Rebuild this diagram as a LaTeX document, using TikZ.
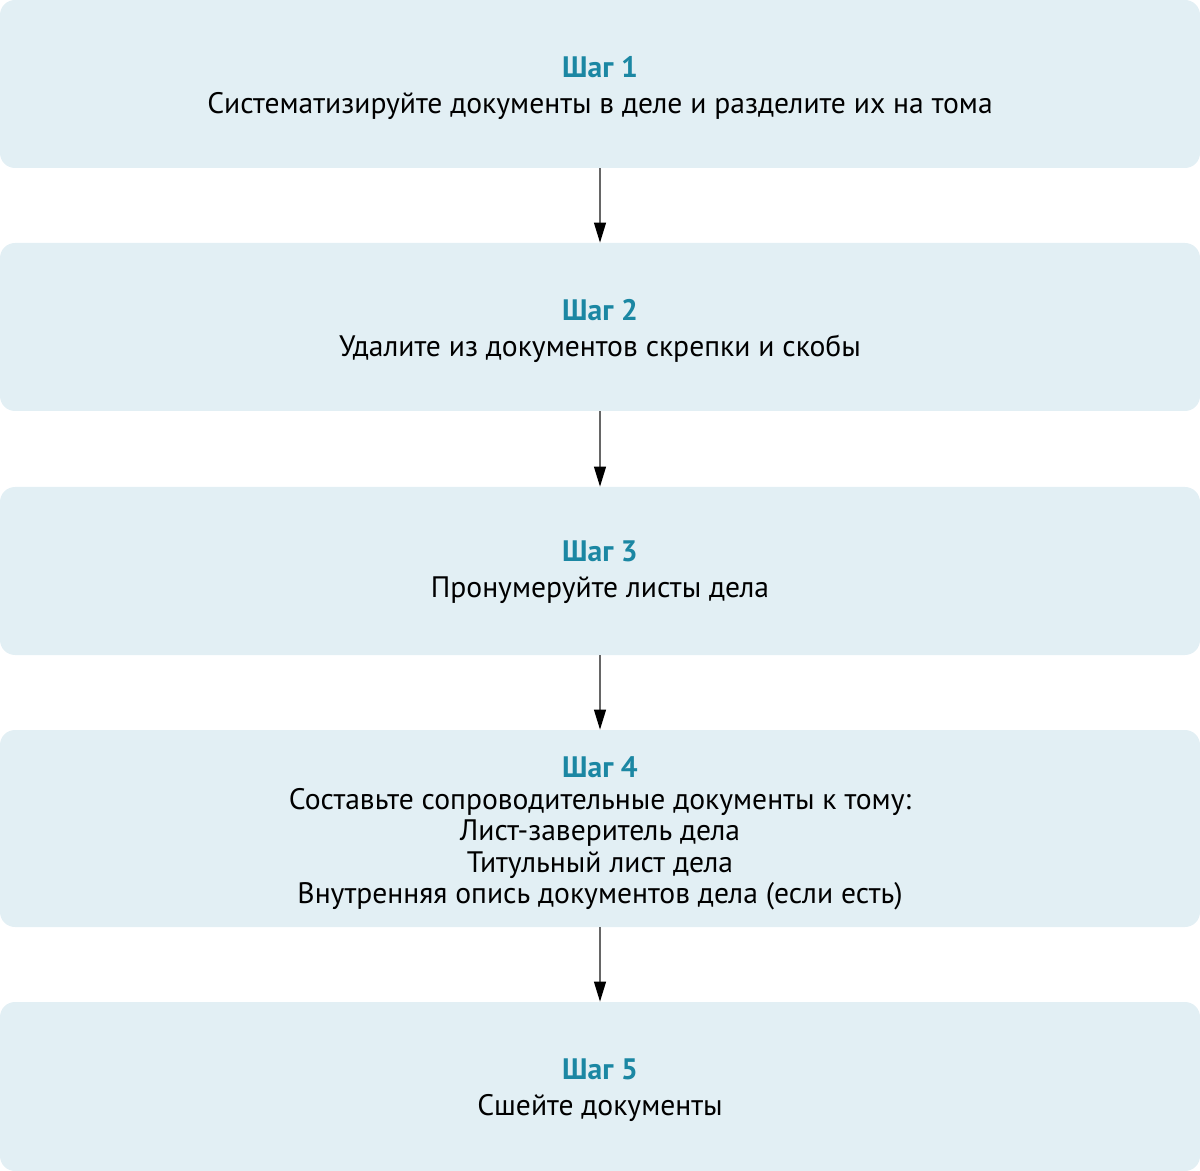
\documentclass[tikz,border=0pt]{standalone}
\usepackage{fontspec}
\setmainfont{PT Sans}
\usetikzlibrary{arrows.meta}
\definecolor{boxfill}{HTML}{E2EFF4}
\definecolor{steptitle}{HTML}{1B87A3}
\definecolor{linegray}{HTML}{666666}
\tikzset{
  stepbox/.style={draw=none, fill=boxfill, rounded corners=7.5pt, minimum width=600pt, inner sep=0pt},
  steptext/.style={align=center, inner sep=0pt, font=\fontsize{14.8pt}{18pt}\selectfont, text=black},
  flowarrow/.style={draw=linegray, line width=0.6pt, -{Triangle[length=10pt,width=6pt,color=black,fill=black]}}
}
\newcommand{\steptitle}[1]{{\color{steptitle}\bfseries #1}}
\begin{document}
\begin{tikzpicture}[x=0.5pt,y=-0.5pt]
\useasboundingbox (0,0) rectangle (1200,1171);
\node[stepbox, minimum height=84pt] (s1) at (600,84) {};
\node[stepbox, minimum height=84pt] (s2) at (600,327) {};
\node[stepbox, minimum height=84pt] (s3) at (600,571) {};
\node[stepbox, minimum height=98.5pt] (s4) at (600,828.5) {};
\node[stepbox, minimum height=84.5pt] (s5) at (600,1086.5) {};
\node[steptext] (t1) at ([yshift=-2pt]s1.center) {\steptitle{Шаг 1}\\Систематизируйте документы в деле и разделите их на тома};
\node[steptext] (t2) at ([yshift=-2pt]s2.center) {\steptitle{Шаг 2}\\Удалите из документов скрепки и скобы};
\node[steptext] (t3) at ([yshift=-0.5pt]s3.center) {\steptitle{Шаг 3}\\Пронумеруйте листы дела};
\node[steptext, font=\fontsize{14.8pt}{15.7pt}\selectfont] (t4) at ([yshift=-2.5pt]s4.center) {\steptitle{Шаг 4}\\Составьте сопроводительные документы к тому:\\Лист-заверитель дела\\Титульный лист дела\\Внутренняя опись документов дела (если есть)};
\node[steptext] (t5) at ([yshift=-2pt]s5.center) {\steptitle{Шаг 5}\\Сшейте документы};
\draw[flowarrow] (s1) -- (s2);
\draw[flowarrow] (s2) -- (s3);
\draw[flowarrow] (s3) -- (s4);
\draw[flowarrow] (s4) -- (s5);
\end{tikzpicture}
\end{document}
